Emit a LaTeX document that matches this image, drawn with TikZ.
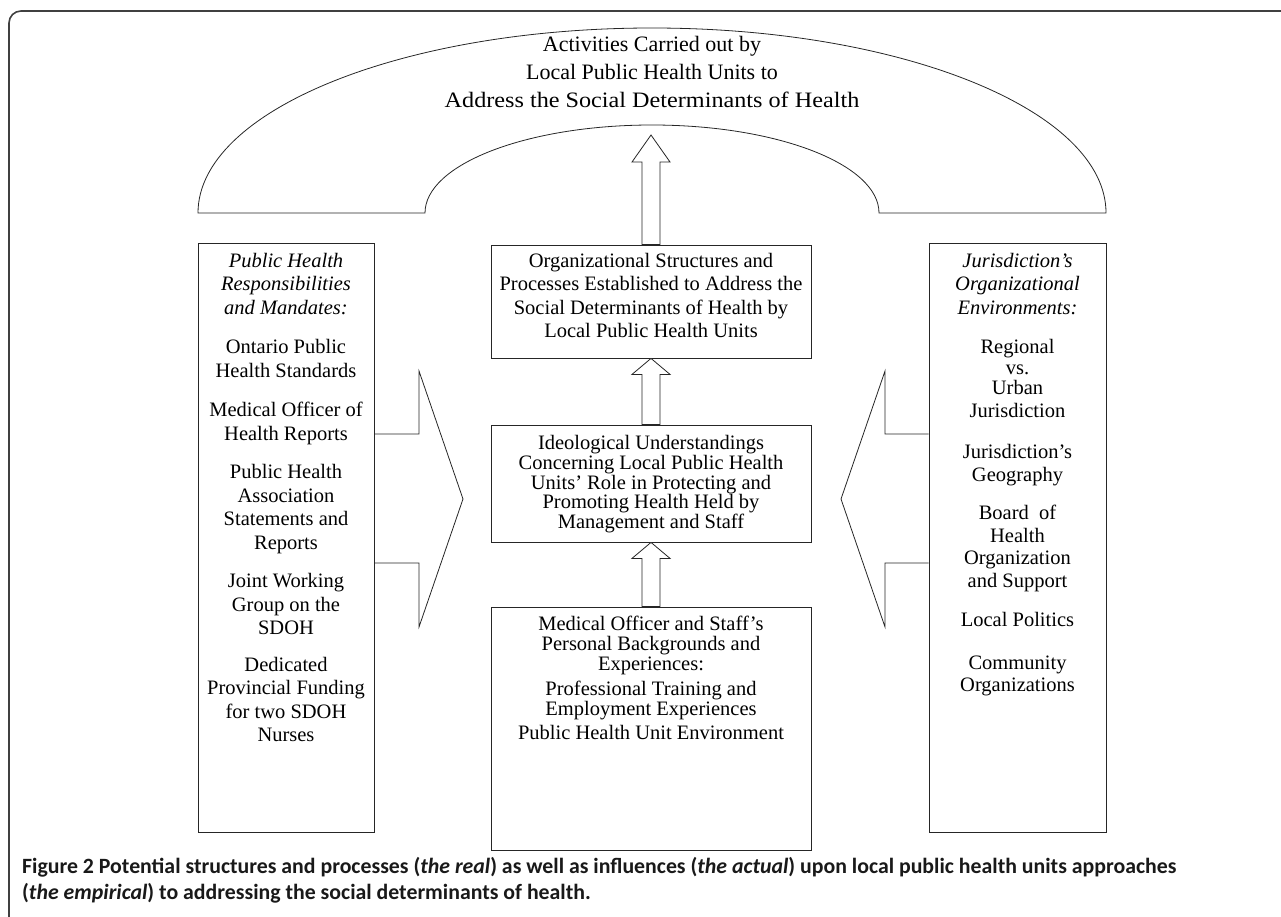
\documentclass[tikz,border=0pt]{standalone}
\usepackage{fontspec}
\setmainfont{Liberation Serif}
\newfontfamily\capfont{Carlito}
\usetikzlibrary{calc}
\newcommand\blockarrow[3]{%
  \draw[blk] let \p1=(#1), \p2=(#2) in
    (\x1-9pt,\y1) -- (\x1-9pt,\y2-#3) -- (\x1-19pt,\y2-#3) -- (\x1,\y2)
    -- (\x1+19pt,\y2-#3) -- (\x1+9pt,\y2-#3) -- (\x1+9pt,\y1) -- cycle;}
\begin{document}
\begin{tikzpicture}[x=1pt,y=-1pt,
  line/.style={line width=0.8pt, draw=black!85},
  boxnode/.style={draw=black!85, line width=0.8pt, inner sep=0pt},
  blk/.style={draw=black!85, line width=0.8pt, fill=white},
  txt/.style={align=center, inner sep=0pt, anchor=north, font=\fontsize{20.5}{23.5}\selectfont},
  frame/.style={draw=black!75, line width=1.6pt}]
\useasboundingbox (0,0) rectangle (1281,917);
% frame
\draw[frame, rounded corners=12pt] (9,917) -- (9,11) -- (1281,11);
% arch
\draw[line] (198,213) arc[start angle=180, end angle=360, x radius=454, y radius=185]
  -- (879,213) arc[start angle=0, end angle=-180, x radius=227, y radius=88] -- cycle;
\node[txt, font=\fontsize{22}{28}\selectfont] (archtxt) at (652,36)
  {Activities Carried out by\\ Local Public Health Units to\\ \scalebox{1.1}[1]{Address the Social Determinants of Health}};
% side boxes
\node[boxnode, minimum width=176pt, minimum height=589pt] (lbox) at (286,537.5) {};
\node[boxnode, minimum width=177pt, minimum height=589pt] (rbox) at (1017.5,537.5) {};
% centre boxes
\node[boxnode, minimum width=320pt, minimum height=113pt] (box1) at (651,301.5) {};
\node[boxnode, minimum width=320pt, minimum height=117pt] (box2) at (651,483.5) {};
\node[boxnode, minimum width=320pt, minimum height=243pt] (box3) at (651,728.5) {};
% texts
\node[txt] (ltxt) at (286,253)
  {\textit{Public Health}\\ \textit{Responsibilities}\\ \textit{and Mandates:}\\[16pt]
   Ontario Public\\ Health Standards\\[16pt]
   Medical Officer of\\ Health Reports\\[15pt]
   Public Health\\ Association\\ Statements and\\ Reports\\[15pt]
   Joint Working\\ Group on the\\ SDOH\\[13pt]
   Dedicated\\ Provincial Funding\\ for two SDOH\\ Nurses};
\node[txt] (rtxt) at (1017.5,253)
  {\textit{Jurisdiction’s}\\ \textit{Organizational}\\ \textit{Environments:}\\[16pt]
   Regional\\[-3pt] vs.\\[-3pt] Urban\\[-1pt] Jurisdiction\\[18pt]
   Jurisdiction’s\\[-1pt] Geography\\[15pt]
   Board\ \ of\\[-1pt] Health\\[-1pt] Organization\\[-1pt] and Support\\[16pt]
   Local Politics\\[19pt]
   Community\\[-1pt] Organizations};
\node[txt] (t1) at (651,253)
  {Organizational Structures and\\ Processes Established to Address the\\ Social Determinants of Health by\\ Local Public Health Units};
\node[txt, font=\fontsize{20.5}{19.8}\selectfont] (t2) at (651,435)
  {Ideological Understandings\\ Concerning Local Public Health\\ Units’ Role in Protecting and\\ Promoting Health Held by\\ Management and Staff};
\node[txt, font=\fontsize{20.5}{20}\selectfont] (t3) at (651,616)
  {Medical Officer and Staff’s\\ Personal Backgrounds and\\ Experiences:\\[5pt]
   Professional Training and\\ Employment Experiences\\[4pt]
   Public Health Unit Environment};
% block arrows
\coordinate (archtip) at (652,135);
\blockarrow{box1.north}{archtip}{27pt}
\blockarrow{box2.north}{box1.south}{16pt}
\blockarrow{box3.north}{box2.south}{16pt}
% chevrons
\draw[line] (lbox.east |- 0,434) -- (419,434) -- (419,371) -- (463,499) -- (419,627) -- (419,563) -- (lbox.east |- 0,563);
\draw[line] (rbox.west |- 0,434) -- (885,434) -- (885,371) -- (841,499) -- (885,627) -- (885,563) -- (rbox.west |- 0,563);
% caption
\node[anchor=north west, inner sep=0pt, align=left, text=black!90,
      font=\capfont\bfseries\fontsize{21.8}{26.5}\selectfont] (cap) at (22,857)
  {Figure 2 Potential structures and processes (\textit{the real}) as well as influences (\textit{the actual}) upon local public health units approaches\\
   (\textit{the empirical}) to addressing the social determinants of health.};
\end{tikzpicture}
\end{document}
